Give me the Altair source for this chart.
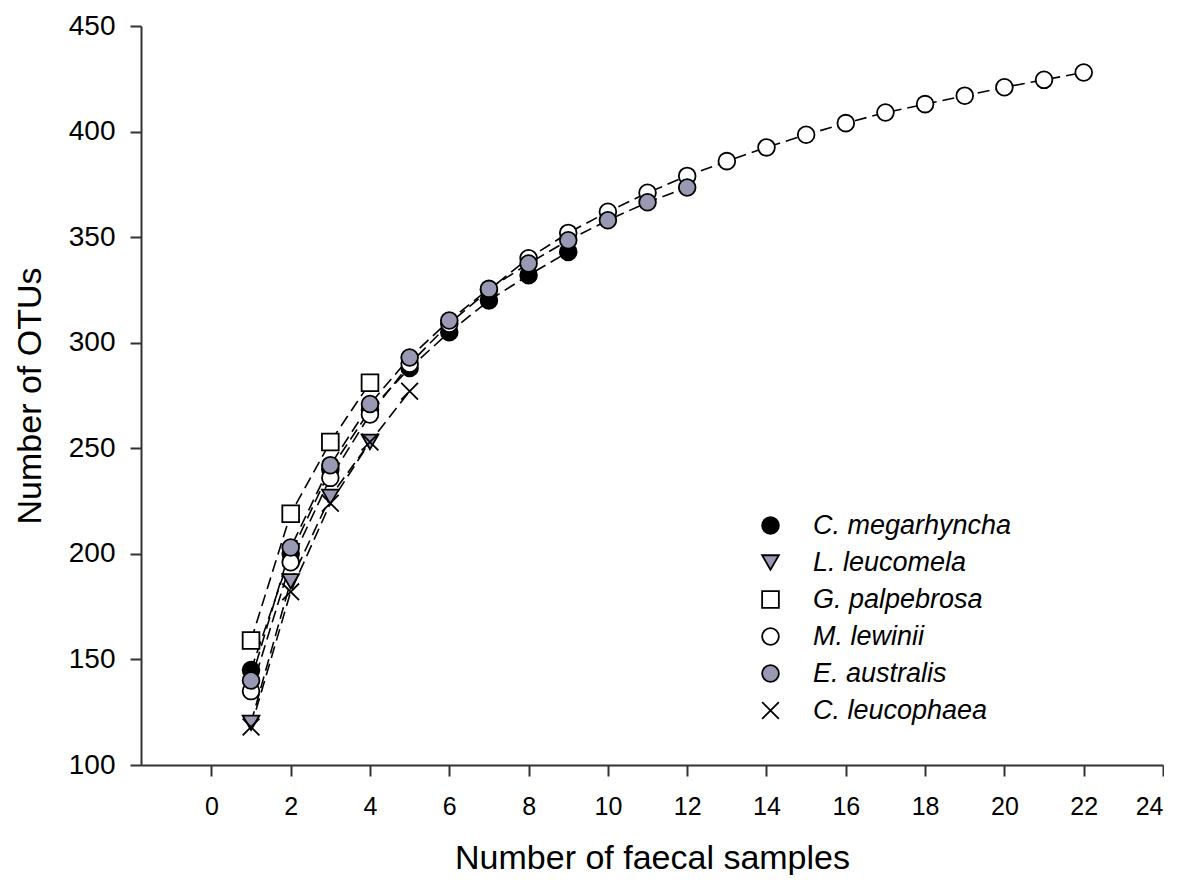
import altair as alt
import pandas as pd

species = ["C. megarhyncha", "L. leucomela", "G. palpebrosa", "M. lewinii", "E. australis", "C. leucophaea"]

megarhyncha = [145, 200, 240, 268, 288, 305, 320, 332, 343]
leucomela = [120, 187, 227, 253]
palpebrosa = [159, 219, 253, 281]
lewinii = [135, 196, 236, 266, 290, 309, 325, 340, 352, 362, 371, 379, 386, 392.5, 398.5, 404, 409, 413, 417, 421, 424.5, 428]
australis = [140, 203, 242, 271, 293, 310.5, 325.5, 337.5, 348.5, 358, 366.5, 373.5]
leucophaea = [118, 182, 224, 253, 277]

series = {
    "C. megarhyncha": megarhyncha,
    "G. palpebrosa": palpebrosa,
    "M. lewinii": lewinii,
    "L. leucomela": leucomela,
    "E. australis": australis,
    "C. leucophaea": leucophaea,
}

rows = []
for name, vals in series.items():
    for i, v in enumerate(vals):
        rows.append({"species": name, "samples": i + 1, "otus": v})
df = pd.DataFrame(rows)

shapes = ["circle", "triangle-down", "square", "circle", "circle", "M-1,-1L1,1M-1,1L1,-1"]
fills = ["#000000", "#9999b4", "#ffffff", "#ffffff", "#9999b4", "transparent"]
strokes = ["#000000"] * 6

x_enc = alt.X("samples:Q", scale=alt.Scale(domain=[-1.775, 24], nice=False, zero=False),
              axis=alt.Axis(values=list(range(0, 25, 2)), title="Number of faecal samples"))
y_enc = alt.Y("otus:Q", scale=alt.Scale(domain=[100, 450], nice=False, zero=False),
              axis=alt.Axis(values=list(range(100, 451, 50)), title="Number of OTUs"))

base = alt.Chart(df)

lines = base.mark_line(color="black", strokeWidth=1.6, strokeDash=[12, 6]).encode(
    x=x_enc, y=y_enc, detail="species:N"
)

leg = alt.Legend(title=None)
points = base.mark_point(filled=True, size=280, strokeWidth=1.8, opacity=1).encode(
    x=x_enc,
    y=y_enc,
    shape=alt.Shape("species:N", scale=alt.Scale(domain=species, range=shapes), legend=leg),
    fill=alt.Fill("species:N", scale=alt.Scale(domain=species, range=fills), legend=leg),
    stroke=alt.Stroke("species:N", scale=alt.Scale(domain=species, range=strokes), legend=leg),
)

chart = alt.layer(lines, points).properties(
    width=1022, height=739, padding={"left": 5, "top": 4, "right": 0, "bottom": 0}
).configure_view(stroke=None).configure_axis(
    domainColor="#333333", domainWidth=2, tickColor="#333333", tickWidth=2, tickSize=11,
    grid=False, labelFont="Liberation Sans", titleFont="Liberation Sans",
    labelColor="black", titleColor="black", titleFontWeight="normal",
).configure_axisX(
    labelFontSize=25, labelPadding=18, titleFontSize=34, titlePadding=22,
).configure_axisY(
    labelFontSize=28, labelPadding=15, titleFontSize=34, titlePadding=21,
).configure_legend(
    orient="none", legendX=616, legendY=486, padding=0,
    labelFont="Liberation Sans", labelFontSize=27, labelFontStyle="italic", labelColor="black",
    labelLimit=0, labelOffset=29, rowPadding=9, symbolSize=280, symbolStrokeWidth=1.8,
)

chart.save("out.html", embed_options={"renderer": "svg", "actions": False})
